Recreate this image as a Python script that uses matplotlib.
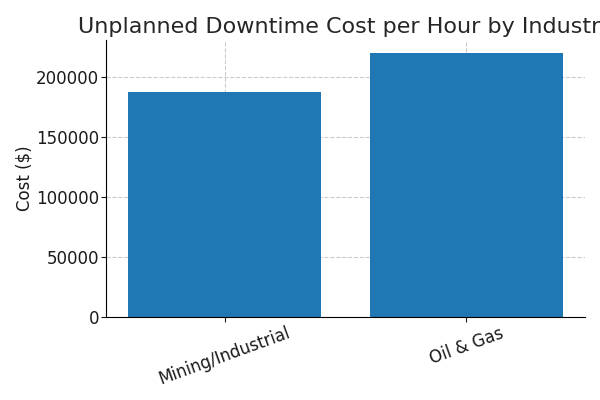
import matplotlib
matplotlib.use("Agg")
import matplotlib.pyplot as plt

industries = ["Mining/Industrial", "Oil & Gas"]
costs = [187500, 220000]

fig = plt.figure(figsize=(6, 4), dpi=100)
ax = fig.add_axes([106/600, 1 - 317/400, (585-106)/600, (317-40)/400])
ax.bar(industries, costs, color="#1f77b4", width=0.8, zorder=2)
ax.set_title("Unplanned Downtime Cost per Hour by Industry", fontsize=16, color="#262626", pad=5)
ax.set_ylabel("Cost ($)", fontsize=12, color="#1a1a1a", labelpad=2)
ax.tick_params(axis="both", labelsize=12, colors="#1a1a1a", pad=1.5)
plt.setp(ax.get_xticklabels(), rotation=20)
ax.grid(True, linestyle="--", color="#cccccc", linewidth=0.8, zorder=0)
ax.spines["top"].set_visible(False)
ax.spines["right"].set_visible(False)
fig.savefig("out.png", dpi=100)
